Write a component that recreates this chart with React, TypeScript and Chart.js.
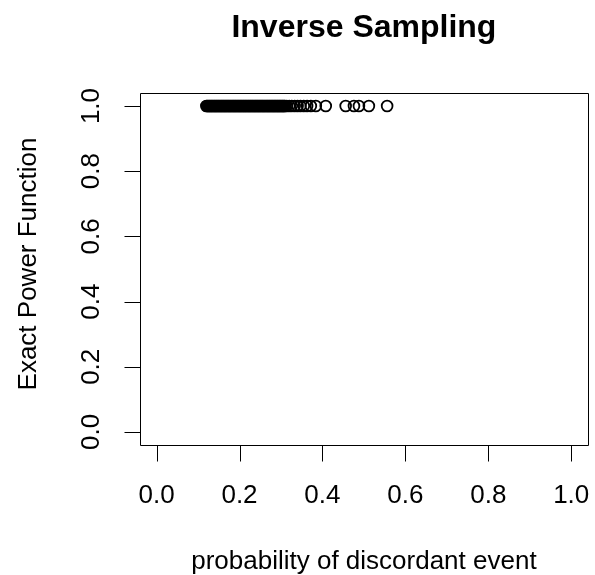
import { useEffect, useRef } from "react";
import { Chart, registerables } from "chart.js";

Chart.register(...registerables);

const discordantProb = [
  0.120, 0.122, 0.124, 0.126, 0.128, 0.130, 0.132, 0.134, 0.136, 0.138,
  0.140, 0.142, 0.144, 0.146, 0.148, 0.150, 0.152, 0.154, 0.156, 0.158,
  0.160, 0.162, 0.164, 0.166, 0.168, 0.170, 0.172, 0.174, 0.176, 0.178,
  0.180, 0.182, 0.184, 0.186, 0.188, 0.190, 0.192, 0.194, 0.196, 0.198,
  0.200, 0.202, 0.204, 0.206, 0.208, 0.210, 0.212, 0.214, 0.216, 0.218,
  0.220, 0.222, 0.224, 0.226, 0.228, 0.230, 0.232, 0.234, 0.236, 0.238,
  0.240, 0.242, 0.244, 0.246, 0.248, 0.250, 0.252, 0.254, 0.256, 0.258,
  0.260, 0.262, 0.264, 0.266, 0.268, 0.270, 0.272, 0.274, 0.276, 0.278,
  0.280, 0.282, 0.284, 0.286, 0.288, 0.290, 0.292, 0.294, 0.296, 0.298,
  0.300, 0.302, 0.304, 0.306, 0.308, 0.310,
  0.314, 0.320, 0.326, 0.333, 0.340, 0.347, 0.355, 0.363, 0.372, 0.384,
  0.408, 0.456, 0.476, 0.488, 0.512, 0.556,
];

const exactPower = [
  1, 1, 1, 1, 1, 1, 1, 1, 1, 1,
  1, 1, 1, 1, 1, 1, 1, 1, 1, 1,
  1, 1, 1, 1, 1, 1, 1, 1, 1, 1,
  1, 1, 1, 1, 1, 1, 1, 1, 1, 1,
  1, 1, 1, 1, 1, 1, 1, 1, 1, 1,
  1, 1, 1, 1, 1, 1, 1, 1, 1, 1,
  1, 1, 1, 1, 1, 1, 1, 1, 1, 1,
  1, 1, 1, 1, 1, 1, 1, 1, 1, 1,
  1, 1, 1, 1, 1, 1, 1, 1, 1, 1,
  1, 1, 1, 1, 1, 1,
  1, 1, 1, 1, 1, 1, 1, 1, 1, 1,
  1, 1, 1, 1, 1, 1,
];

const xTicks = [0, 0.2, 0.4, 0.6, 0.8, 1.0];
const xTickLabels = ["0.0", "0.2", "0.4", "0.6", "0.8", "1.0"];
const yTicks = [0, 0.2, 0.4, 0.6, 0.8, 1.0];
const yTickLabels = ["0.0", "0.2", "0.4", "0.6", "0.8", "1.0"];

const titleText = "Inverse Sampling";
const xTitleText = "probability of discordant event";
const yTitleText = "Exact Power Function";

const FONT = "'Liberation Sans', Arial, Helvetica, sans-serif";

const rAxesPlugin = {
  id: "rAxes",
  afterDraw(chart: any) {
    const { ctx, chartArea: a, scales } = chart;
    const xs = scales.x;
    const ys = scales.y;
    ctx.save();
    ctx.strokeStyle = "#000";
    ctx.fillStyle = "#000";
    ctx.lineWidth = 1;

    const L = Math.round(a.left) + 0.5;
    const R = Math.round(a.right) + 0.5;
    const T = Math.round(a.top) + 0.5;
    const B = Math.round(a.bottom) + 0.5;

    // box
    ctx.beginPath();
    ctx.rect(L, T, R - L, B - T);
    ctx.stroke();

    const tickLen = 16;

    // x axis
    ctx.beginPath();
    ctx.moveTo(Math.round(xs.getPixelForValue(xTicks[0])) + 0.5, B);
    ctx.lineTo(Math.round(xs.getPixelForValue(xTicks[xTicks.length - 1])) + 0.5, B);
    xTicks.forEach((v) => {
      const px = Math.round(xs.getPixelForValue(v)) + 0.5;
      ctx.moveTo(px, B);
      ctx.lineTo(px, B + tickLen);
    });
    ctx.stroke();

    // y axis
    ctx.beginPath();
    ctx.moveTo(L, Math.round(ys.getPixelForValue(yTicks[0])) + 0.5);
    ctx.lineTo(L, Math.round(ys.getPixelForValue(yTicks[yTicks.length - 1])) + 0.5);
    yTicks.forEach((v) => {
      const py = Math.round(ys.getPixelForValue(v)) + 0.5;
      ctx.moveTo(L, py);
      ctx.lineTo(L - tickLen, py);
    });
    ctx.stroke();

    // x tick labels
    ctx.font = `26px ${FONT}`;
    ctx.textAlign = "center";
    ctx.textBaseline = "alphabetic";
    xTicks.forEach((v, i) => {
      ctx.fillText(xTickLabels[i], xs.getPixelForValue(v), a.bottom + 58);
    });

    // y tick labels (rotated)
    yTicks.forEach((v, i) => {
      ctx.save();
      ctx.translate(a.left - 41, ys.getPixelForValue(v));
      ctx.rotate(-Math.PI / 2);
      ctx.fillText(yTickLabels[i], 0, 0);
      ctx.restore();
    });

    // axis titles
    const cx = (a.left + a.right) / 2;
    const cy = (a.top + a.bottom) / 2;
    ctx.fillText(xTitleText, cx, a.bottom + 124);
    ctx.save();
    ctx.translate(a.left - 104, cy - 5);
    ctx.rotate(-Math.PI / 2);
    ctx.fillText(yTitleText, 0, 0);
    ctx.restore();

    // main title
    ctx.font = `bold 32px ${FONT}`;
    ctx.fillText(titleText, cx, a.top - 56);

    ctx.restore();
  },
};

export default function App() {
  const canvasRef = useRef<HTMLCanvasElement | null>(null);

  useEffect(() => {
    const canvas = canvasRef.current;
    if (!canvas) return;
    const points = discordantProb.map((x, i) => ({ x, y: exactPower[i] }));
    const chart = new Chart(canvas, {
      type: "scatter",
      data: {
        datasets: [
          {
            data: points,
            pointStyle: "circle",
            pointRadius: 5.4,
            pointHoverRadius: 5.4,
            pointBorderWidth: 1.8,
            borderColor: "#000",
            backgroundColor: "rgba(0,0,0,0)",
          },
        ],
      },
      options: {
        animation: false,
        responsive: false,
        devicePixelRatio: 1,
        events: [],
        layout: { padding: { left: 140, right: 5, top: 93, bottom: 130 } },
        plugins: {
          legend: { display: false },
          tooltip: { enabled: false },
          title: { display: false },
        },
        scales: {
          x: { type: "linear", min: -0.04, max: 1.04, display: false },
          y: { type: "linear", min: -0.04, max: 1.04, display: false },
        },
      },
      plugins: [rAxesPlugin],
    });
    return () => chart.destroy();
  }, []);

  return (
    <div style={{ position: "absolute", left: 0, top: 0, width: 595, height: 575, background: "#fff" }}>
      <canvas ref={canvasRef} width={595} height={575} style={{ display: "block", width: 595, height: 575 }} />
    </div>
  );
}
